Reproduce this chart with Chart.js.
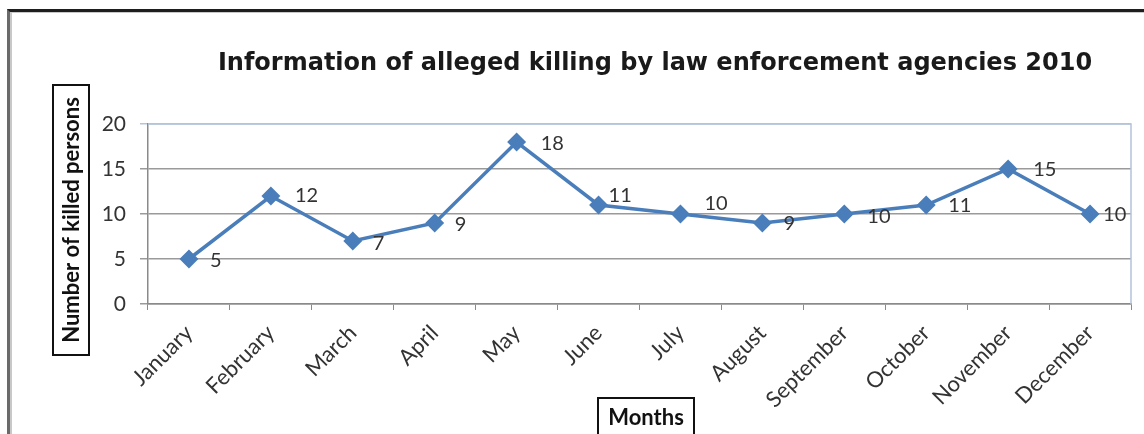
<!DOCTYPE html>
<html>
<head>
<meta charset="utf-8">
<title>Alleged killing by law enforcement agencies 2010</title>
<script src="https://cdn.jsdelivr.net/npm/chart.js@4.4.1/dist/chart.umd.min.js"></script>
<style>
    html, body { margin: 0; padding: 0; background: #fff; }
    #wrap { position: relative; width: 1144px; height: 434px; overflow: hidden; }
    #frame {
        position: absolute; left: 7px; top: 9px; width: 1200px; height: 500px;
        border-top: 3px solid #1e1e1e; border-left: 3px solid #6a6a6a;
        box-shadow: inset 2px 1px 0 #c8c8c8;
    }
    #killChart { position: absolute; left: 0; top: 0; }
</style>
</head>
<body>
<div id="wrap">
    <div id="frame"></div>
    <canvas id="killChart" width="1144" height="434"></canvas>
</div>
<script>
// chart data
const months = ['January', 'February', 'March', 'April', 'May', 'June',
    'July', 'August', 'September', 'October', 'November', 'December'];
const killed = [5, 12, 7, 9, 18, 11, 10, 9, 10, 11, 15, 10];
const yTicks = [0, 5, 10, 15, 20];

const chartTitle = 'Information of alleged killing by law enforcement agencies 2010';
const yTitle = 'Number of killed persons';
const xTitle = 'Months';

// small label nudges [dx, dy] (some labels were moved by hand in the original)
const labelNudge = [[21, 2], [24, 0], [20, 3], [20, 2], [24, 2], [10, -9],
    [24, -10], [21, 1], [23, 3], [22, 1], [25, 1], [13, 1]];

document.addEventListener('DOMContentLoaded', function () {
    const ctx = document.getElementById('killChart');

    // title, boxed axis titles, data labels and plot border
    const extras = {
        id: 'extras',
        beforeDatasetsDraw(chart) {
            const c = chart.ctx;
            const a = chart.chartArea;
            c.save();
            c.strokeStyle = '#b4c4da';
            c.lineWidth = 1.5;
            c.beginPath();
            c.moveTo(a.left, a.top);
            c.lineTo(a.right, a.top);
            c.lineTo(a.right, a.bottom);
            c.stroke();
            c.restore();
        },
        afterDraw(chart) {
            const c = chart.ctx;
            c.save();

            // main title
            c.fillStyle = '#1a1a1a';
            c.font = 'bold 24px "DejaVu Sans"';
            c.textAlign = 'center';
            c.textBaseline = 'middle';
            c.fillText(chartTitle, 655, 64);

            // y axis title in a box
            c.strokeStyle = '#111';
            c.lineWidth = 2;
            c.strokeRect(53, 85, 36, 270);
            c.save();
            c.translate(72, 220);
            c.rotate(-Math.PI / 2);
            c.font = 'bold 22px Lato';
            c.fillStyle = '#111';
            c.fillText(yTitle, 0, 0);
            c.restore();

            // x axis title in a box
            c.strokeRect(598, 398, 96, 50);
            c.font = 'bold 22px Lato';
            c.fillStyle = '#111';
            c.fillText(xTitle, 646, 418);

            // data labels right of each point
            const meta = chart.getDatasetMeta(0);
            c.font = '20px Lato';
            c.fillStyle = '#333';
            c.textAlign = 'left';
            meta.data.forEach((pt, i) => {
                const n = labelNudge[i];
                c.fillText(String(killed[i]), pt.x + n[0], pt.y + n[1]);
            });
            c.restore();
        }
    };

    new Chart(ctx, {
        type: 'line',
        data: {
            labels: months,
            datasets: [{
                label: 'Killed persons',
                data: killed,
                borderColor: '#4a7ebb',
                backgroundColor: '#4a7ebb',
                borderWidth: 3.5,
                pointStyle: 'rectRot',
                pointRadius: 7,
                pointHoverRadius: 7,
                pointBackgroundColor: '#4a7ebb',
                pointBorderColor: '#4a7ebb',
                tension: 0
            }]
        },
        options: {
            responsive: false,
            animation: false,
            layout: { padding: { left: 0, right: 13, top: 124, bottom: 0 } },
            plugins: {
                legend: { display: false },
                title: { display: false },
                tooltip: { enabled: false }
            },
            scales: {
                x: {
                    offset: true,
                    afterFit(scale) { scale.height = 130; },
                    grid: {
                        offset: true,
                        drawOnChartArea: false,
                        drawTicks: true,
                        tickLength: 6,
                        color: '#8a8a8a'
                    },
                    border: { display: true, color: '#8a8a8a', width: 1.5 },
                    ticks: {
                        autoSkip: false,
                        minRotation: 45,
                        maxRotation: 45,
                        padding: 10,
                        color: '#333',
                        font: { family: 'Lato', size: 22 }
                    }
                },
                y: {
                    min: 0,
                    max: 20,
                    afterFit(scale) { scale.width = 148; },
                    afterBuildTicks(scale) {
                        scale.ticks = yTicks.map(v => ({ value: v }));
                    },
                    grid: {
                        color: ctx => ctx.tick && ctx.tick.value === 20 ? '#b4c4da' : '#9a9a9a',
                        lineWidth: 1.5,
                        drawTicks: true,
                        tickLength: 8
                    },
                    border: { display: true, color: '#8a8a8a', width: 1.5 },
                    ticks: {
                        padding: 14,
                        color: '#333',
                        font: { family: 'Lato', size: 21 }
                    }
                }
            }
        },
        plugins: [extras]
    });
});
</script>
</body>
</html>
